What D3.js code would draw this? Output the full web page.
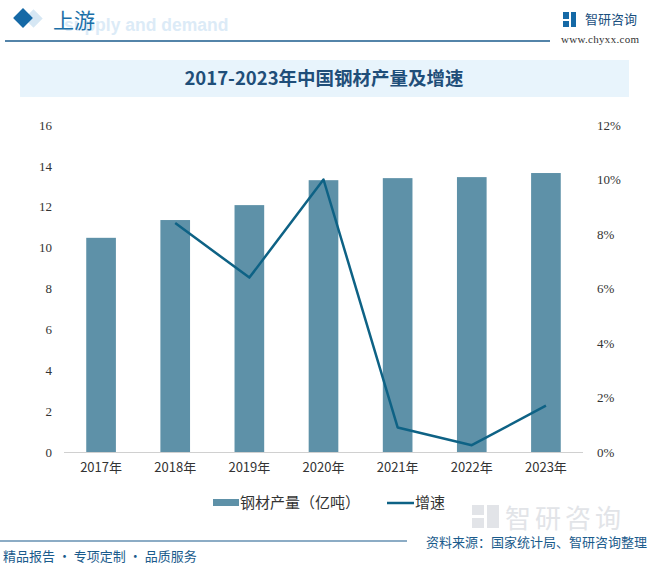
<!DOCTYPE html>
<html><head><meta charset="utf-8">
<script src="https://cdn.jsdelivr.net/npm/d3@7"></script>
<style>body{margin:0;background:#fff}svg{display:block}</style>
</head><body>
<script>
const categories = ["2017年","2018年","2019年","2020年","2021年","2022年","2023年"];
const production = [10.48, 11.35, 12.08, 13.30, 13.40, 13.45, 13.65];
const growth = [null, 8.4, 6.4, 10.0, 0.9, 0.25, 1.7];
const leftTicks = [0,2,4,6,8,10,12,14,16];
const rightTicks = [0,2,4,6,8,10,12];
const seriesNames = ["钢材产量（亿吨）","增速"];

const W=653,H=568;
const svg=d3.select("body").append("svg").attr("width",W).attr("height",H);
const cjk="'Noto Sans CJK SC','Noto Sans',sans-serif";

// header
svg.append("text").attr("x",64).attr("y",31).attr("font-family","Liberation Sans,Arial").attr("font-weight","bold")
  .attr("font-size",17.5).attr("fill","#dcebf7").text("supply and demand");
svg.append("rect").attr("x",27).attr("y",12).attr("width",13).attr("height",13).attr("fill","#d6e7f4")
  .attr("transform","rotate(45,33.5,18.5)");
svg.append("rect").attr("x",16).attr("y",11).attr("width",14).attr("height",14).attr("fill","#1569a6")
  .attr("transform","rotate(45,23,18)");
svg.append("text").attr("x",53).attr("y",28).attr("font-family",cjk).attr("font-size",21).attr("fill","#1a6fa8").text("上游");
svg.append("line").attr("x1",5).attr("x2",550).attr("y1",41).attr("y2",41).attr("stroke","#1a5b8c").attr("stroke-width",1.5);
// logo
const lg=svg.append("g");
lg.append("rect").attr("x",563).attr("y",12).attr("width",6).attr("height",7).attr("fill","#1569a6");
lg.append("rect").attr("x",563).attr("y",21).attr("width",6).attr("height",6).attr("fill","#1569a6");
lg.append("rect").attr("x",571).attr("y",12).attr("width",5).attr("height",15).attr("fill","#1569a6");
svg.append("text").attr("x",585).attr("y",24).attr("font-family",cjk).attr("font-size",13).attr("fill","#1a4f7e").text("智研咨询");
svg.append("text").attr("x",561).attr("y",43).attr("font-family","Liberation Serif,serif").attr("font-size",11).attr("fill","#333")
  .attr("textLength",78).text("www.chyxx.com");

// title band
svg.append("rect").attr("x",20).attr("y",60).attr("width",609).attr("height",37).attr("fill","#e8f4fc");
svg.append("text").attr("x",324).attr("y",85).attr("text-anchor","middle").attr("font-family",cjk).attr("font-weight","bold")
  .attr("font-size",18.5).attr("fill","#1f4e79").text("2017-2023年中国钢材产量及增速");

// watermark bottom-right
svg.append("text").attr("x",505).attr("y",528).attr("font-family",cjk).attr("font-size",26).attr("fill","#e2e4e8").attr("letter-spacing",4).text("智研咨询");
svg.append("rect").attr("x",472).attr("y",505).attr("width",12).attr("height",10).attr("fill","#e2e4e8");
svg.append("rect").attr("x",472).attr("y",518).attr("width",12).attr("height",10).attr("fill","#e2e4e8");
svg.append("rect").attr("x",487).attr("y",505).attr("width",12).attr("height",23).attr("fill","#e2e4e8");

// scales
const x=d3.scaleBand().domain(categories).range([64,583]).paddingInner(0.6).paddingOuter(0.3);
const yL=d3.scaleLinear().domain([0,16]).range([452,125]);
const yR=d3.scaleLinear().domain([0,12]).range([452,125]);

svg.append("g").selectAll("rect").data(production).join("rect")
  .attr("x",(d,i)=>x(categories[i])).attr("width",x.bandwidth())
  .attr("y",d=>yL(d)).attr("height",d=>yL(0)-yL(d)).attr("fill","#5e91a8");

svg.append("line").attr("x1",64).attr("x2",583).attr("y1",452.5).attr("y2",452.5).attr("stroke","#d0d0d0");

const line=d3.line().defined(d=>d.v!=null).x(d=>x(d.c)+x.bandwidth()/2).y(d=>yR(d.v));
svg.append("path").datum(categories.map((c,i)=>({c,v:growth[i]}))).attr("d",line)
  .attr("fill","none").attr("stroke","#0e6285").attr("stroke-width",2.5).attr("stroke-linejoin","round");

// axes
const axL=d3.axisLeft(yL).tickValues(leftTicks).tickSize(0).tickPadding(0);
const gL=svg.append("g").attr("transform","translate(52,0)").call(axL);
gL.select(".domain").remove();
gL.selectAll("text").attr("font-family","Liberation Serif,serif").attr("font-size",13).attr("fill","#333");

const axR=d3.axisRight(yR).tickValues(rightTicks).tickFormat(d=>d+"%").tickSize(0).tickPadding(0);
const gR=svg.append("g").attr("transform","translate(597,0)").call(axR);
gR.select(".domain").remove();
gR.selectAll("text").attr("font-family","Liberation Serif,serif").attr("font-size",13).attr("fill","#333");

const axB=d3.axisBottom(x).tickSize(0).tickPadding(11);
const gB=svg.append("g").attr("transform","translate(0,452)").call(axB);
gB.select(".domain").remove();
gB.selectAll("text").attr("font-family",cjk).attr("font-size",13).attr("fill","#333");

// legend
svg.append("rect").attr("x",213).attr("y",499).attr("width",26).attr("height",7).attr("fill","#5e91a8");
svg.append("text").attr("x",240).attr("y",508).attr("font-family",cjk).attr("font-size",15).attr("fill","#333").text(seriesNames[0]);
svg.append("line").attr("x1",387).attr("x2",414).attr("y1",503).attr("y2",503).attr("stroke","#0e6285").attr("stroke-width",2.5);
svg.append("text").attr("x",415).attr("y",508).attr("font-family",cjk).attr("font-size",15).attr("fill","#333").text(seriesNames[1]);

// footer
svg.append("line").attr("x1",0).attr("x2",407).attr("y1",541).attr("y2",541).attr("stroke","#1a5b8c").attr("stroke-width",1.2);
svg.append("text").attr("x",647).attr("y",547).attr("text-anchor","end").attr("font-family",cjk).attr("font-size",13).attr("fill","#1a5b8c").text("资料来源：国家统计局、智研咨询整理");
svg.append("text").attr("x",3).attr("y",561).attr("font-family",cjk).attr("font-size",13).attr("fill","#1a5b8c").text("精品报告 · 专项定制 · 品质服务");
</script>
</body></html>
